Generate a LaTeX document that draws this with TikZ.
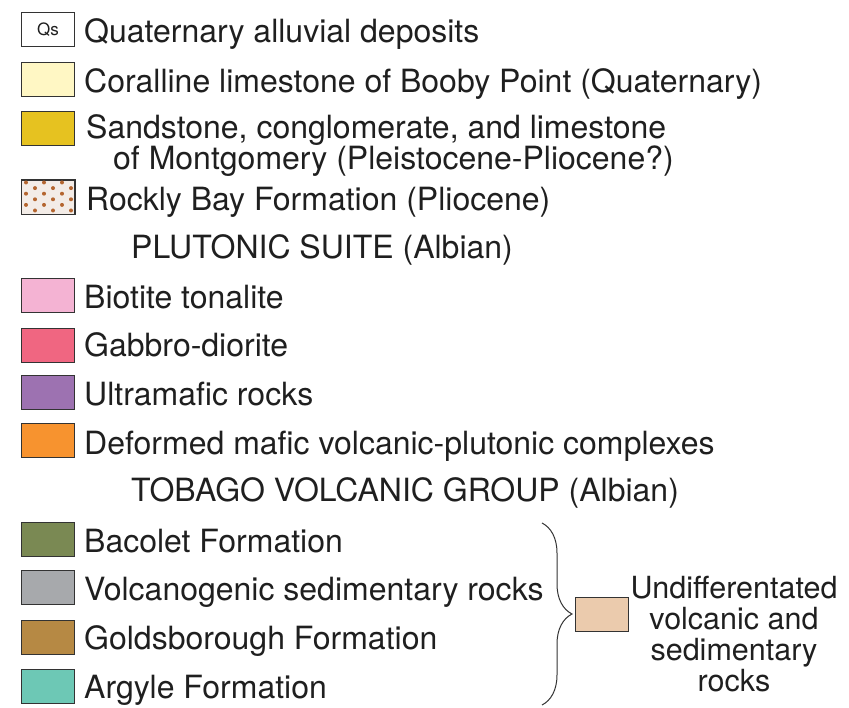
\documentclass[tikz,border=0pt]{standalone}
\usepackage{fontspec}
\setmainfont{TeX Gyre Heros}
\usetikzlibrary{positioning,calc,decorations.pathreplacing}

\definecolor{coral}{HTML}{FFF7C4}
\definecolor{sand}{HTML}{E6C220}
\definecolor{rockbg}{HTML}{F3ECE7}
\definecolor{rockdot}{HTML}{B4652F}
\definecolor{biot}{HTML}{F4B3D3}
\definecolor{gabb}{HTML}{F06681}
\definecolor{ultra}{HTML}{9D72B1}
\definecolor{defo}{HTML}{F7932F}
\definecolor{baco}{HTML}{7A8953}
\definecolor{volc}{HTML}{A7A9AC}
\definecolor{gold}{HTML}{B68944}
\definecolor{argy}{HTML}{6DC8B5}
\definecolor{undif}{HTML}{EBCBAD}
\definecolor{edge}{HTML}{333333}

\begin{document}
\begin{tikzpicture}[x=1pt, y=-1pt,
            unit/.style={draw=edge, line width=1pt, minimum width=53pt, minimum height=34pt, inner sep=0pt},
            every node/.style={font=\fontsize{32}{31}\selectfont, text=black!88},
            legend/.style={inner sep=0pt, anchor=base west, yshift=-13pt, align=left},
            head/.style={inner sep=0pt, anchor=base west}
  ]
  \useasboundingbox (0,0) rectangle (849,708);

  % boxes
  \node[unit, fill=white] (qs) at (48,30) {\fontsize{17}{17}\selectfont Qs};
  \node[unit, fill=coral] (coral) at (48,79.5) {};
  \node[unit, fill=sand] (sand) at (48,129) {};
  \node[unit, fill=rockbg] (rock) at (48,197.5) {};
  \node[unit, fill=biot] (biot) at (48,295.5) {};
  \node[unit, fill=gabb] (gabb) at (48,346) {};
  \node[unit, fill=ultra] (ultra) at (48,392.5) {};
  \node[unit, fill=defo] (defo) at (48,441) {};
  \node[unit, fill=baco] (baco) at (48,539) {};
  \node[unit, fill=volc] (volc) at (48,587.5) {};
  \node[unit, fill=gold] (gold) at (48,637.5) {};
  \node[unit, fill=argy] (argy) at (48,686.5) {};
  \node[unit, fill=undif] (und) at (602,614) {};

  % dots of Rockly Bay
  \begin{scope}
    \clip (rock.south west) rectangle (rock.north east);
    \foreach \r in {0,...,6} {
      \foreach \c in {0,...,3} {
        \pgfmathsetmacro{\dx}{mod(\r,2)*9}
        \fill[rockdot] ($(rock.north west)+(5+\c*18+\dx,2.5+\r*5.6)$) circle (2pt);
      }
    }
  \end{scope}
  \draw[edge, line width=1pt] (rock.south west) rectangle (rock.north east);

  % labels
  \node (qst) [right=9pt of qs, legend] {Quaternary alluvial deposits};
  \node (coralt) [right=9pt of coral, legend] {Coralline limestone of Booby Point (Quaternary)};
  \node (sandt) [right=11pt of sand, legend, yshift=-27.5pt] {Sandstone, conglomerate, and limestone\\\hspace*{27pt}of Montgomery (Pleistocene-Pliocene?)};
  \node (rockt) [right=11pt of rock, legend] {Rockly Bay Formation (Pliocene)};
  \node[head] (plut) at (131,258.5) {PLUTONIC SUITE (Albian)};
  \node (biott) [right=9pt of biot, legend] {Biotite tonalite};
  \node (gabbt) [right=9pt of gabb, legend, yshift=2pt] {Gabbro-diorite};
  \node (ultrat) [right=9pt of ultra, legend] {Ultramafic rocks};
  \node (defot) [right=9pt of defo, legend] {Deformed mafic volcanic-plutonic complexes};
  \node[head] (tobt) at (131,501.5) {TOBAGO VOLCANIC GROUP (Albian)};
  \node (bacot) [right=9pt of baco, legend] {Bacolet Formation};
  \node (volct) [right=9pt of volc, legend] {Volcanogenic sedimentary rocks};
  \node (goldt) [right=9pt of gold, legend, yshift=1.5pt] {Goldsborough Formation};
  \node (argyt) [right=9pt of argy, legend, yshift=1pt] {Argyle Formation};
  \node[align=center, inner sep=0pt, font=\fontsize{30.5}{30.8}\selectfont] (undt) at (734,634) {Undifferentated\\volcanic and\\sedimentary\\rocks};

  % brace
  \coordinate (bt) at (542,523);
  \coordinate (bb) at (542,705);
  \draw[edge, line width=1pt, decorate, decoration={brace, amplitude=30pt}] (bt) -- (bb);

\end{tikzpicture}
\end{document}
